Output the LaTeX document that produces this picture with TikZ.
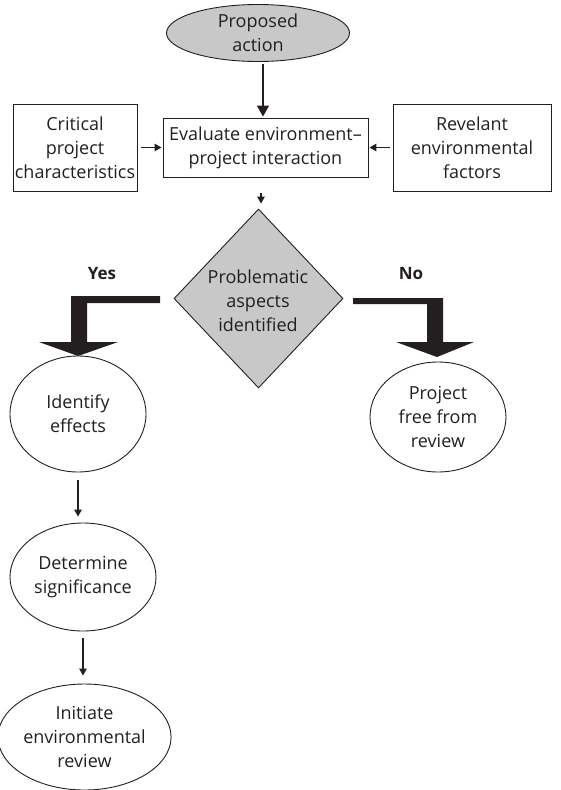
\documentclass[tikz,border=0pt]{standalone}
\usepackage{fontspec}
\setmainfont{Open Sans}
\usetikzlibrary{shapes.geometric,arrows.meta}
\definecolor{ink}{RGB}{35,31,32}
\definecolor{shade}{RGB}{200,200,200}
\tikzset{
  txt/.style={font=\fontsize{18}{24}\selectfont, text=ink, align=center},
  boxn/.style={txt, draw=ink, line width=0.9pt, rectangle, inner sep=0pt},
  ell/.style={txt, draw=ink, line width=0.9pt, ellipse, inner sep=0pt},
  arr/.style={draw=ink, line width=1.4pt, -{Triangle[length=7pt,width=7.5pt]}},
  bigarr/.style={draw=ink, line width=1.8pt, -{Triangle[length=11pt,width=12pt]}},
  thick arrow/.style={fill=ink, draw=none},
  lab/.style={font=\fontsize{17}{20}\selectfont\bfseries, text=ink}
}
\begin{document}
\begin{tikzpicture}[x=1pt,y=-1pt]
\useasboundingbox (0,0) rectangle (560,790);
\node[ell, fill=shade, minimum width=183pt, minimum height=57pt] (prop) at (258,33) {Proposed\\action};
\node[boxn, minimum width=205pt, minimum height=59pt] (eval) at (265.5,147.5) {Evaluate environment–\\project interaction};
\node[boxn, minimum width=124pt, minimum height=87pt] (crit) at (75,147.5) {Critical\\project\\characteristics};
\node[boxn, minimum width=158pt, minimum height=87pt] (rel) at (472,147.5) {Revelant\\environmental\\factors};
\node[txt, draw=ink, line width=0.9pt, fill=shade, diamond, inner sep=0pt, minimum width=169pt, minimum height=179pt] (prob) at (258.5,298.5) {};
\node[txt] at (258,301) {Problematic\\aspects\\identified};
\node[lab] (yes) at (102,274) {Yes};
\node[lab] (no) at (411,274) {No};
\node[ell, minimum width=136pt, minimum height=116pt] (ident) at (78,414) {Identify\\effects};
\node[ell, minimum width=136pt, minimum height=110pt] (free) at (438,417) {Project\\free from\\review};
\node[ell, minimum width=146pt, minimum height=108pt] (det) at (83,577) {Determine\\significance};
\node[ell, minimum width=145pt, minimum height=106pt] (init) at (84.5,737) {Initiate\\environmental\\review};
% connectors
\draw[bigarr, shorten <=2pt, shorten >=1pt] (prop.south -| 263,0) -- (eval.north -| 263,0);
\draw[arr, shorten <=4pt, shorten >=1pt] (crit.east) -- (eval.west);
\draw[arr, shorten <=3pt, shorten >=1pt] (rel.west) -- (eval.east);
\draw[arr, shorten <=16pt, shorten >=5pt] (eval.south -| 261,0) -- (prob.north -| 261,0);
\draw[arr, shorten <=8pt, shorten >=6pt] (ident.south) -- (ident.south |- det.north);
\draw[arr, shorten <=7pt, shorten >=8pt] (det.south) -- (det.south |- init.north);
% thick L arrows
\fill[thick arrow] (160,296) -- (71,296) -- (71,342) -- (39,342) -- (78,356) -- (118,342) -- (87,342) -- (87,303) -- (160,303) -- cycle;
\fill[thick arrow] (353,298) -- (443,298) -- (443,342) -- (474,342) -- (437,357) -- (396,342) -- (427,342) -- (427,304) -- (353,304) -- cycle;
\end{tikzpicture}
\end{document}
